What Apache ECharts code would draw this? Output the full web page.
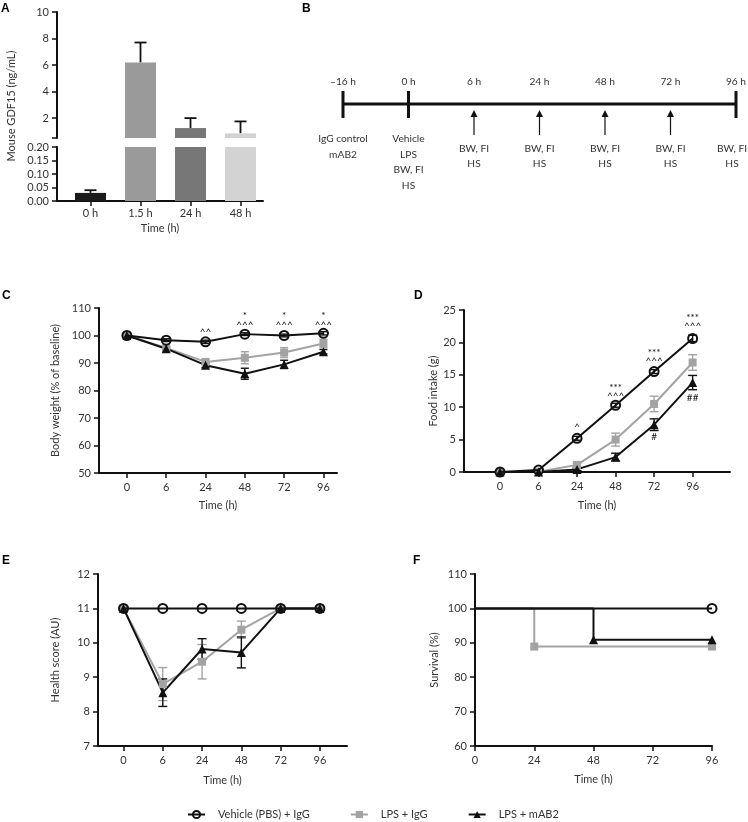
<!DOCTYPE html>
<html>
<head>
<meta charset="utf-8">
<script src="https://cdn.jsdelivr.net/npm/echarts@6/dist/echarts.min.js"></script>
<style>
  html,body{margin:0;padding:0;background:#fff;}
  #chart{width:748px;height:822px;}
</style>
</head>
<body>
<div id="chart"></div>
<script>
(function(){
  const FONT = 'Lato, "Open Sans", sans-serif';
  const INK = '#111';
  const GREY = '#a3a3a3';
  const TXT = '#333';

  // A: GDF15 over time
  const gdfCats = ['0 h', '1.5 h', '24 h', '48 h'];
  const gdfMean = [0.03, 6.2, 1.25, 0.85];
  const gdfSem = [0.01, 1.5, 0.75, 0.9];
  const gdfColors = ['#1a1a1a', '#9a9a9a', '#777777', '#d3d3d3'];

  // B: study timeline
  const tlTop = ['\u201316 h', '0 h', '6 h', '24 h', '48 h', '72 h', '96 h'];
  const tlBottom = ['IgG control\nmAB2', 'Vehicle\nLPS\nBW, FI\nHS', 'BW, FI\nHS', 'BW, FI\nHS', 'BW, FI\nHS', 'BW, FI\nHS', 'BW, FI\nHS'];
  const tlKind = ['bar', 'bar', 'arrow', 'arrow', 'arrow', 'arrow', 'bar'];

  // shared time points for C, D, E
  const timeLabels = ['0', '6', '24', '48', '72', '96'];
  const seriesNames = ['Vehicle (PBS) + IgG', 'LPS + IgG', 'LPS + mAB2'];

  // C: body weight (% of baseline)
  const bwVehicle = [100, 98.3, 97.7, 100.5, 100, 100.8];
  const bwVehicleErr = [0, 0.5, 0.6, 0.5, 0.5, 0.6];
  const bwIgG = [100, 95.5, 90.4, 91.9, 93.8, 97.1];
  const bwIgGErr = [0, 0.7, 0.8, 2.2, 1.8, 1.5];
  const bwMab2 = [100, 95.2, 89.2, 86.1, 89.5, 94.1];
  const bwMab2Err = [0, 0.6, 0.8, 2.0, 1.5, 0.8];
  const bwMarks = [[2, 101.2, '^^'], [3, 104, '^^^'], [3, 107.2, '*'], [4, 104, '^^^'], [4, 107.2, '*'], [5, 104, '^^^'], [5, 107.2, '*']];

  // D: food intake (g)
  const fiVehicle = [0, 0.3, 5.2, 10.3, 15.5, 20.6];
  const fiVehicleErr = [0, 0.1, 0.3, 0.3, 0.3, 0.5];
  const fiIgG = [0, 0.05, 1.1, 5.0, 10.5, 16.9];
  const fiIgGErr = [0, 0.05, 0.3, 1.0, 1.2, 1.2];
  const fiMab2 = [0, 0, 0.4, 2.3, 7.3, 13.8];
  const fiMab2Err = [0, 0, 0.2, 0.6, 0.9, 1.1];
  const fiMarks = [[2, 7.0, '^'], [3, 11.7, '^^^'], [3, 13.0, '***'], [4, 17.1, '^^^'], [4, 18.4, '***'], [5, 22.5, '^^^'], [5, 23.8, '***'], [4, 5.4, '#'], [5, 11.4, '##']];

  // E: health score (AU)
  const hsVehicle = [11, 11, 11, 11, 11, 11];
  const hsIgG = [11, 8.8, 9.45, 10.38, 11, 11];
  const hsIgGErr = [0, 0.48, 0.5, 0.25, 0, 0];
  const hsMab2 = [11, 8.55, 9.82, 9.72, 11, 11];
  const hsMab2Err = [0, 0.4, 0.3, 0.45, 0, 0];

  // F: survival (%), [time h, percent]
  const survVehicle = [[0, 100], [96, 100]];
  const survIgG = [[0, 100], [24, 88.9], [96, 88.9]];
  const survMab2 = [[0, 100], [48, 90.9], [96, 90.9]];

  const chart = echarts.init(document.getElementById('chart'));

  const txt = (size) => ({color: TXT, fontSize: size || 11, fontFamily: FONT});
  const idxPairs = (vals) => vals.map((v, i) => [i, v]);
  const timeIdx = timeLabels.map((_, i) => i);

  function yAx(gridIndex, min, max, interval, name, gap, more){
    const ax = {
      type: 'value', gridIndex, min, max, interval,
      axisLine: {show: true, onZero: false, lineStyle: {color: INK, width: 2}},
      axisTick: {show: true, length: 5, lineStyle: {color: INK, width: 1.5}},
      axisLabel: Object.assign({margin: 8}, txt()),
      splitLine: {show: false},
      name, nameLocation: 'middle', nameGap: gap, nameTextStyle: txt()
    };
    if(more && more.ticks) ax.axisTick.customValues = more.ticks;
    if(more && more.labels) ax.axisLabel.customValues = more.labels;
    if(more && more.fmt) ax.axisLabel.formatter = more.fmt;
    return ax;
  }

  function timeAx(gridIndex, min, max, gap){
    return {
      type: 'value', gridIndex, min, max,
      axisLine: {onZero: false, lineStyle: {color: INK, width: 2}},
      axisTick: {customValues: timeIdx, length: 5, lineStyle: {color: INK, width: 1.5}},
      axisLabel: Object.assign({customValues: timeIdx, margin: 9, formatter: v => timeLabels[Math.round(v)]}, txt()),
      splitLine: {show: false},
      name: 'Time (h)', nameLocation: 'middle', nameGap: gap, nameTextStyle: txt()
    };
  }

  // error bars drawn through the axes of each grid
  function errSeries(xi, yi, points, color, capHalf, opts){
    opts = opts || {};
    return {
      type: 'custom', xAxisIndex: xi, yAxisIndex: yi, z: 1, silent: true,
      data: points,
      renderItem(params, api){
        const x = api.value(0), m = api.value(1), e = api.value(2);
        if(!e) return null;
        if(opts.yMin != null && m < opts.yMin) return null;
        if(opts.yMax != null && m > opts.yMax) return null;
        const a = api.coord([x, opts.upOnly ? m : m - e]);
        const b = api.coord([x, m + e]);
        const st = {stroke: color, lineWidth: opts.lw || 1.4};
        const kids = [
          {type: 'line', shape: {x1: a[0], y1: a[1], x2: b[0], y2: b[1]}, style: st},
          {type: 'line', shape: {x1: b[0] - capHalf, y1: b[1], x2: b[0] + capHalf, y2: b[1]}, style: st}
        ];
        if(!opts.upOnly) kids.push({type: 'line', shape: {x1: a[0] - capHalf, y1: a[1], x2: a[0] + capHalf, y2: a[1]}, style: st});
        return {type: 'group', children: kids};
      }
    };
  }
  const errPts = (m, e) => m.map((v, i) => [i, v, e[i]]);

  function markSeries(xi, yi, items){
    return {
      type: 'custom', xAxisIndex: xi, yAxisIndex: yi, z: 6, silent: true,
      data: items.map(a => [a[0], a[1]]),
      renderItem(params, api){
        const p = api.coord([api.value(0), api.value(1)]);
        return {type: 'text', x: p[0], y: p[1], style: {
          text: items[params.dataIndex][2], fill: INK, font: '10px ' + FONT,
          textAlign: 'center', textVerticalAlign: 'middle', align: 'center', verticalAlign: 'middle'
        }};
      }
    };
  }

  const STY = {
    veh: {symbol: 'circle', symbolSize: 9, itemStyle: {color: 'rgba(255,255,255,0)', borderColor: INK, borderWidth: 2}, lineStyle: {color: INK, width: 2}},
    igg: {symbol: 'rect', symbolSize: 8, itemStyle: {color: GREY}, lineStyle: {color: GREY, width: 2}},
    mab: {symbol: 'triangle', symbolSize: 9, itemStyle: {color: INK}, lineStyle: {color: INK, width: 2}}
  };
  function lineSer(name, xi, yi, data, sty, extra){
    return Object.assign({type: 'line', name, xAxisIndex: xi, yAxisIndex: yi, data, z: 3, emphasis: {disabled: true}}, sty, extra || {});
  }
  const stepData = (pts) => pts.map((p, i) => i === 0 ? {value: p, symbol: 'none'} : p);

  // grids: 0 A-top, 1 A-bottom, 2 B, 3 C, 4 D, 5 E, 6 F
  const grid = [
    {left: 57, top: 12, width: 206, height: 126},
    {left: 57, top: 147, width: 206, height: 54},
    {left: 343, top: 54, width: 393, height: 100},
    {left: 99, top: 308, width: 238, height: 165},
    {left: 464, top: 310, width: 266, height: 162},
    {left: 98, top: 574, width: 249, height: 172},
    {left: 475, top: 574, width: 237, height: 172}
  ];

  const gdfIdx = gdfCats.map((_, i) => i);
  const xAxis = [
    {type: 'value', gridIndex: 0, min: -0.67, max: 3.45, show: false},
    {
      type: 'value', gridIndex: 1, min: -0.67, max: 3.45,
      axisLine: {onZero: false, lineStyle: {color: INK, width: 2}},
      axisTick: {customValues: gdfIdx, length: 5, lineStyle: {color: INK, width: 1.5}},
      axisLabel: Object.assign({customValues: gdfIdx, margin: 7, formatter: v => gdfCats[Math.round(v)]}, txt()),
      splitLine: {show: false},
      name: 'Time (h)', nameLocation: 'middle', nameGap: 22, nameTextStyle: txt()
    },
    {type: 'value', gridIndex: 2, min: 0, max: 6, show: false},
    timeAx(3, -0.71, 5.345, 27),
    timeAx(4, -0.935, 5.97, 28),
    timeAx(5, -0.65, 5.69, 29),
    {
      type: 'value', gridIndex: 6, min: 0, max: 96, interval: 24,
      axisLine: {onZero: false, lineStyle: {color: INK, width: 2}},
      axisTick: {length: 5, lineStyle: {color: INK, width: 1.5}},
      axisLabel: Object.assign({margin: 9}, txt()),
      splitLine: {show: false},
      name: 'Time (h)', nameLocation: 'middle', nameGap: 28, nameTextStyle: txt()
    }
  ];

  const yAxis = [
    yAx(0, 0.5, 10, null, '', 0, {ticks: [0.5, 2, 4, 6, 8, 10], labels: [2, 4, 6, 8, 10]}),
    yAx(1, 0, 0.2, 0.05, '', 0, {fmt: v => v.toFixed(2)}),
    {type: 'value', gridIndex: 2, min: 0, max: 1, show: false},
    yAx(3, 50, 110, 10, 'Body weight (% of baseline)', 38),
    yAx(4, 0, 25, 5, 'Food intake (g)', 24),
    yAx(5, 7, 12, 1, 'Health score (AU)', 37),
    yAx(6, 60, 110, 10, 'Survival (%)', 35)
  ];

  const barData = gdfMean.map((v, i) => ({value: [i, v], itemStyle: {color: gdfColors[i]}}));

  const series = [
    // A
    {type: 'bar', xAxisIndex: 0, yAxisIndex: 0, barWidth: 31, data: barData, clip: true, silent: true},
    {type: 'bar', xAxisIndex: 1, yAxisIndex: 1, barWidth: 31, data: barData, clip: true, silent: true},
    errSeries(0, 0, errPts(gdfMean, gdfSem), INK, 6, {upOnly: true, yMin: 0.5, lw: 1.8}),
    errSeries(1, 1, errPts(gdfMean, gdfSem), INK, 6, {upOnly: true, yMax: 0.2, lw: 1.8}),

    // B
    {type: 'line', xAxisIndex: 2, yAxisIndex: 2, data: [[0, 0.5], [tlTop.length - 1, 0.5]], symbol: 'none', silent: true,
      lineStyle: {color: INK, width: 3}, z: 2},
    {
      type: 'custom', xAxisIndex: 2, yAxisIndex: 2, silent: true, z: 3,
      data: tlTop.map((_, i) => [i, 0.5]),
      renderItem(params, api){
        const i = params.dataIndex;
        const last = i === tlTop.length - 1;
        const p = api.coord([api.value(0), api.value(1)]);
        const font = '10.2px ' + FONT;
        const kids = [{type: 'text', x: p[0], y: p[1] - 22, style: {text: tlTop[i], fill: TXT, font,
          textAlign: 'center', textVerticalAlign: 'middle', align: 'center', verticalAlign: 'middle'}}];
        if(tlKind[i] === 'bar'){
          kids.push({type: 'line', shape: {x1: p[0], y1: p[1] - 13, x2: p[0], y2: p[1] + 14}, style: {stroke: INK, lineWidth: 3}});
          // the last column sits at the page edge, so nudge its text left
          kids.push({type: 'text', x: last ? p[0] - 4 : p[0], y: p[1] + (last ? 37 : 27), style: {text: tlBottom[i], fill: TXT, font,
            lineHeight: last ? 15 : 15.5, textAlign: 'center', textVerticalAlign: 'top', align: 'center', verticalAlign: 'top'}});
        } else {
          kids.push({type: 'line', shape: {x1: p[0], y1: p[1] + 31, x2: p[0], y2: p[1] + 10}, style: {stroke: INK, lineWidth: 1.2}});
          kids.push({type: 'polygon', shape: {points: [[p[0], p[1] + 6], [p[0] - 3.5, p[1] + 13], [p[0] + 3.5, p[1] + 13]]}, style: {fill: INK}});
          kids.push({type: 'text', x: p[0], y: p[1] + 37, style: {text: tlBottom[i], fill: TXT, font, lineHeight: 15,
            textAlign: 'center', textVerticalAlign: 'top', align: 'center', verticalAlign: 'top'}});
        }
        return {type: 'group', children: kids};
      }
    },

    // C
    errSeries(3, 3, errPts(bwIgG, bwIgGErr), GREY, 4),
    errSeries(3, 3, errPts(bwMab2, bwMab2Err), INK, 4),
    errSeries(3, 3, errPts(bwVehicle, bwVehicleErr), INK, 4),
    lineSer(seriesNames[1], 3, 3, idxPairs(bwIgG), STY.igg),
    lineSer(seriesNames[2], 3, 3, idxPairs(bwMab2), STY.mab),
    lineSer(seriesNames[0], 3, 3, idxPairs(bwVehicle), STY.veh, {z: 4}),
    markSeries(3, 3, bwMarks),

    // D
    errSeries(4, 4, errPts(fiIgG, fiIgGErr), GREY, 4.5),
    errSeries(4, 4, errPts(fiMab2, fiMab2Err), INK, 4.5),
    errSeries(4, 4, errPts(fiVehicle, fiVehicleErr), INK, 4.5),
    lineSer(seriesNames[1], 4, 4, idxPairs(fiIgG), STY.igg),
    lineSer(seriesNames[2], 4, 4, idxPairs(fiMab2), STY.mab),
    lineSer(seriesNames[0], 4, 4, idxPairs(fiVehicle), STY.veh, {z: 4}),
    markSeries(4, 4, fiMarks),

    // E
    errSeries(5, 5, errPts(hsIgG, hsIgGErr), GREY, 4.5),
    errSeries(5, 5, errPts(hsMab2, hsMab2Err), INK, 4.5),
    lineSer(seriesNames[1], 5, 5, idxPairs(hsIgG), STY.igg),
    lineSer(seriesNames[2], 5, 5, idxPairs(hsMab2), STY.mab),
    lineSer(seriesNames[0], 5, 5, idxPairs(hsVehicle), STY.veh, {z: 4}),

    // F
    lineSer(seriesNames[1], 6, 6, stepData(survIgG), STY.igg, {step: 'end'}),
    lineSer(seriesNames[2], 6, 6, stepData(survMab2), STY.mab, {step: 'end'}),
    lineSer(seriesNames[0], 6, 6, stepData(survVehicle), STY.veh, {step: 'end', z: 4})
  ];

  const letterStyle = {fontSize: 12, fontWeight: 'bold', color: '#000', fontFamily: '"Liberation Sans", Arial, sans-serif'};
  const title = [
    {text: 'A', left: 1, top: 3},
    {text: 'B', left: 302, top: 3},
    {text: 'C', left: 2, top: 290},
    {text: 'D', left: 414, top: 290},
    {text: 'E', left: 2, top: 555},
    {text: 'F', left: 413, top: 555}
  ].map(t => Object.assign(t, {padding: 0, textStyle: letterStyle}));

  chart.setOption({
    animation: false,
    backgroundColor: '#fff',
    textStyle: {fontFamily: FONT},
    title,
    grid,
    xAxis,
    yAxis,
    series,
    legend: {
      data: seriesNames, left: 187, top: 809, padding: 0, itemWidth: 17, itemHeight: 9, itemGap: 40,
      selectedMode: false,
      textStyle: Object.assign({padding: [0, 0, 0, 8]}, txt())
    },
    graphic: [{
      type: 'text', x: 11, y: 106, rotation: Math.PI / 2,
      style: {text: 'Mouse GDF15 (ng/mL)', fill: TXT, font: '11px ' + FONT,
        textAlign: 'center', textVerticalAlign: 'middle', align: 'center', verticalAlign: 'middle'}
    }]
  });
})();
</script>
</body>
</html>
